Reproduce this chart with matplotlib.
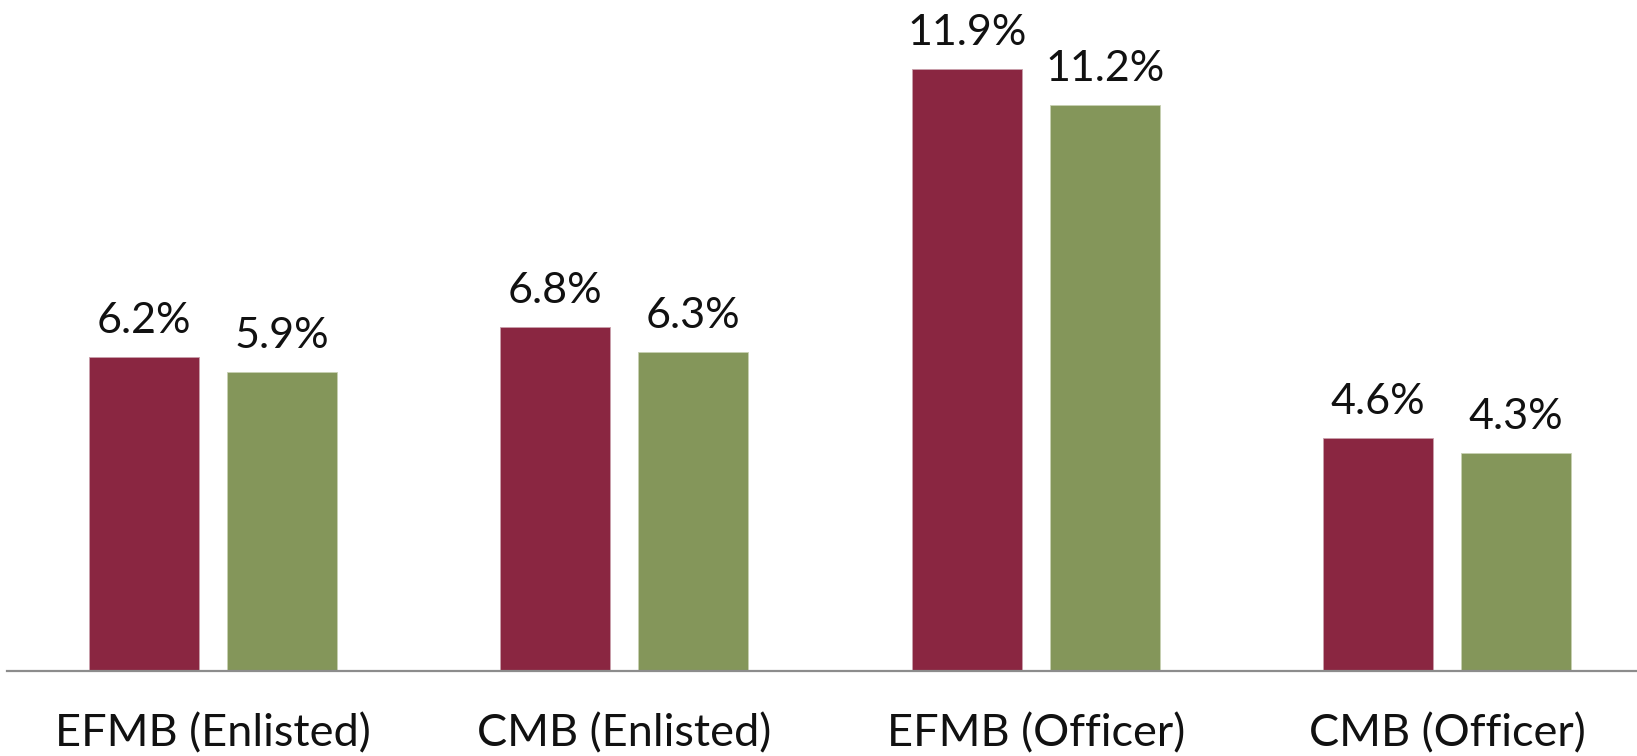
import numpy as np
import matplotlib.pyplot as plt

plt.rcParams['font.family'] = ['Lato', 'DejaVu Sans']

categories = ['EFMB (Enlisted)', 'CMB (Enlisted)', 'EFMB (Officer)', 'CMB (Officer)']
series_a = [6.2, 6.8, 11.9, 4.6]
series_b = [5.9, 6.3, 11.2, 4.3]

color_a = '#8A2641'
color_b = '#84965A'


def main():
    W, H = 1637, 756
    fig = plt.figure(figsize=(W / 100, H / 100), dpi=100)
    # axes: left at x=7px, baseline at y=670.7px, ~411.5 px per category
    left = 7 / W
    bottom = (H - 670.7) / H
    width = 4 * 411.5 / W
    ymax = 13.0
    height = ymax * 50.55 / H
    ax = fig.add_axes([left, bottom, width, height])

    x = np.arange(len(categories))
    bw = 0.267
    off = 0.1677
    bars_a = ax.bar(x - off, series_a, bw, color=color_a, edgecolor='#c9a0ab', linewidth=0.6)
    bars_b = ax.bar(x + off, series_b, bw, color=color_b, edgecolor='#c7d0b3', linewidth=0.6)

    ax.set_xlim(-0.5, 3.5)
    ax.set_ylim(0, ymax)

    for bars, vals in ((bars_a, series_a), (bars_b, series_b)):
        for b, v in zip(bars, vals):
            ax.annotate(f'{v:.1f}%', xy=(b.get_x() + b.get_width() / 2, v),
                        xytext=(0, 24), textcoords='offset pixels',
                        ha='center', va='baseline', fontsize=31, color='#111111')

    for i, c in enumerate(categories):
        ax.annotate(c, xy=(i, 0), xycoords=('data', 'axes fraction'),
                    xytext=(0, -76), textcoords='offset pixels',
                    ha='center', va='baseline', fontsize=32.5, color='#111111',
                    annotation_clip=False)

    for s in ('top', 'right', 'left'):
        ax.spines[s].set_visible(False)
    ax.spines['bottom'].set_color('#8c8c8c')
    ax.spines['bottom'].set_linewidth(1.6)
    ax.set_xticks([])
    ax.set_yticks([])

    fig.savefig('out.png', dpi=100)


if __name__ == "__main__":
    main()
